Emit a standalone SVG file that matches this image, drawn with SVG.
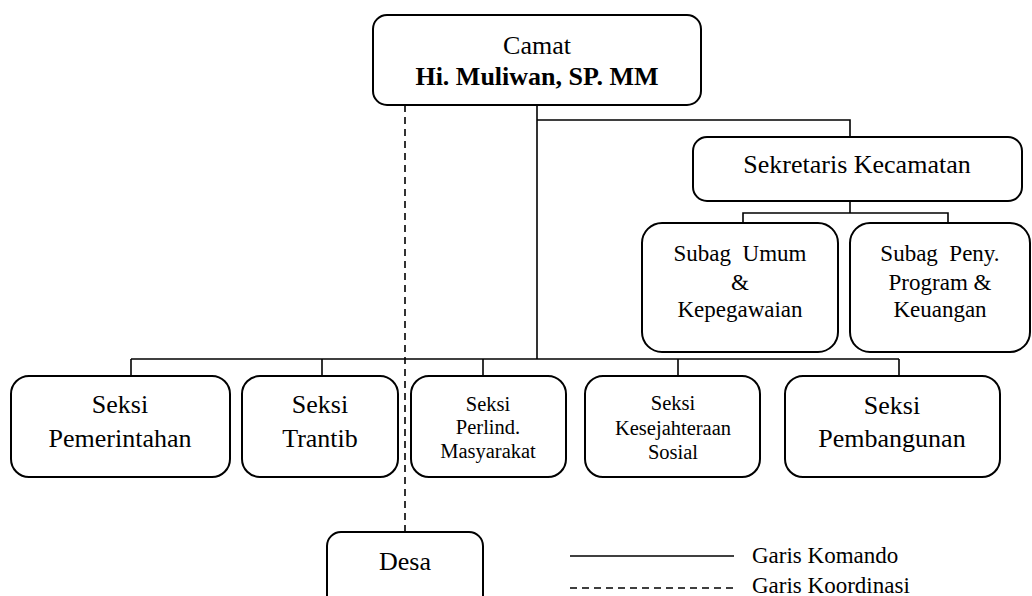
<svg xmlns="http://www.w3.org/2000/svg" width="1032" height="596" viewBox="0 0 1032 596">
<style>
.box{fill:#fff;stroke:#000;stroke-width:2}
.ln{fill:none;stroke:#000;stroke-width:1.6}
.dash{fill:none;stroke:#000;stroke-width:1.6;stroke-dasharray:7 5}
text{font-family:"Liberation Serif","Times New Roman",serif;fill:#000;text-anchor:middle}
.t26{font-size:26px}
.t23{font-size:23px}
.t21{font-size:20.5px}
.b{font-weight:bold}
.leg{font-size:23px;text-anchor:start}
</style>
<rect width="1032" height="596" fill="#fff"/>
<g id="connectors">
<line class="dash" x1="405" y1="105" x2="405" y2="532"/>
<polyline class="ln" points="537,105 537,359"/>
<polyline class="ln" points="537,120 850,120 850,137"/>
<polyline class="ln" points="850,201 850,213"/>
<polyline class="ln" points="743,223 743,213 948,213 948,223"/>
<line class="ln" x1="131" y1="359" x2="899" y2="359"/>
<line class="ln" x1="131" y1="359" x2="131" y2="376"/>
<line class="ln" x1="322" y1="359" x2="322" y2="376"/>
<line class="ln" x1="483" y1="359" x2="483" y2="376"/>
<line class="ln" x1="678" y1="359" x2="678" y2="376"/>
<line class="ln" x1="899" y1="359" x2="899" y2="376"/>
</g>
<g id="camat">
<rect class="box" x="373" y="15" width="328" height="90" rx="14"/>
<text class="t26" x="537" y="54">Camat</text>
<text class="t26 b" x="537" y="85">Hi. Muliwan, SP. MM</text>
</g>
<g id="sekretaris">
<rect class="box" x="693" y="137" width="329" height="64" rx="14"/>
<text class="t26" x="857" y="173">Sekretaris Kecamatan</text>
</g>
<g id="subag-umum">
<rect class="box" x="642" y="223" width="196" height="129" rx="20"/>
<text class="t23" x="740" y="261" xml:space="preserve">Subag  Umum</text>
<text class="t23" x="740" y="290">&amp;</text>
<text class="t23" x="740" y="317">Kepegawaian</text>
</g>
<g id="subag-peny">
<rect class="box" x="850" y="223" width="180" height="129" rx="20"/>
<text class="t23" x="940" y="261" xml:space="preserve">Subag  Peny.</text>
<text class="t23" x="940" y="290">Program &amp;</text>
<text class="t23" x="940" y="317">Keuangan</text>
</g>
<g id="pemerintahan">
<rect class="box" x="11" y="376" width="219" height="101" rx="18"/>
<text class="t26" x="120" y="413">Seksi</text>
<text class="t26" x="120" y="447">Pemerintahan</text>
</g>
<g id="trantib">
<rect class="box" x="242" y="376" width="156" height="101" rx="18"/>
<text class="t26" x="320" y="413">Seksi</text>
<text class="t26" x="320" y="447">Trantib</text>
</g>
<g id="perlind">
<rect class="box" x="411" y="376" width="155" height="101" rx="18"/>
<text class="t21" x="488" y="411">Seksi</text>
<text class="t21" x="488" y="434">Perlind.</text>
<text class="t21" x="488" y="458">Masyarakat</text>
</g>
<g id="kesejahteraan">
<rect class="box" x="585" y="376" width="175" height="101" rx="18"/>
<text class="t21" x="673" y="410">Seksi</text>
<text class="t21" x="673" y="435">Kesejahteraan</text>
<text class="t21" x="673" y="459">Sosial</text>
</g>
<g id="pembangunan">
<rect class="box" x="785" y="376" width="215" height="101" rx="18"/>
<text class="t26" x="892" y="414">Seksi</text>
<text class="t26" x="892" y="447">Pembangunan</text>
</g>
<g id="desa">
<rect class="box" x="327" y="532" width="156" height="80" rx="14"/>
<text class="t26" x="405" y="570">Desa</text>
</g>
<g id="legend">
<line class="ln" x1="570" y1="556" x2="734" y2="556"/>
<line class="dash" x1="570" y1="588" x2="734" y2="588"/>
<text class="leg" x="752" y="563">Garis Komando</text>
<text class="leg" x="752" y="593">Garis Koordinasi</text>
</g>
</svg>
